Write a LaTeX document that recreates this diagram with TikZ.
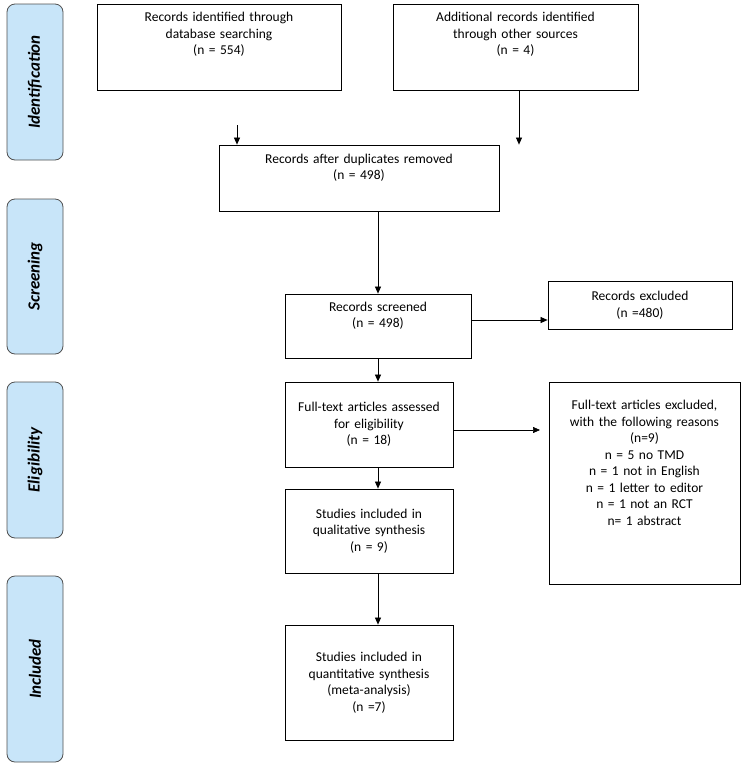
\documentclass[tikz,border=0pt]{standalone}
\usepackage{fontspec}
\setmainfont{Carlito}
\usetikzlibrary{arrows.meta}
\definecolor{sidefill}{RGB}{200,229,249}
\definecolor{sidedraw}{RGB}{80,80,80}
\tikzset{
  box/.style={draw=black, line width=0.8pt, align=center, inner sep=2pt, font=\fontsize{13.5}{16.5}\selectfont},
  side/.style={draw=sidedraw, fill=sidefill, rounded corners=8pt, line width=0.8pt, font=\fontsize{17}{19}\selectfont\bfseries\itshape, rotate=90},
  arr/.style={-{Triangle[length=7pt,width=6pt]}, line width=0.7pt}
}
\newcommand{\bx}[6]{%
  \pgfmathsetmacro{\bw}{#4-#2}\pgfmathsetmacro{\bh}{#5-#3}\pgfmathsetmacro{\tw}{#4-#2-6}%
  \pgfmathsetmacro{\cx}{(#2+#4)/2}\pgfmathsetmacro{\cy}{(#3+#5)/2}%
  \node[box, minimum width=\bw pt, minimum height=\bh pt, text width=\tw pt] (#1) at (\cx,\cy) {#6};}
\newcommand{\sd}[4]{%
  \pgfmathsetmacro{\bw}{#4-#3}\pgfmathsetmacro{\cy}{(#3+#4)/2}%
  \node[side, minimum width=\bw pt, minimum height=56pt] (#1) at (35,\cy) {#2};}
\begin{document}
\begin{tikzpicture}[x=1pt,y=-1pt]
\useasboundingbox (0,0) rectangle (755,769);
\sd{s1}{Identification}{4}{160}
\sd{s2}{Screening}{199}{354}
\sd{s3}{Eligibility}{382}{538}
\sd{s4}{Included}{576}{762}
\bx{b1}{97}{4}{341}{90}{Records identified through\\database searching\\(n = 554)\\[10pt]\mbox{}}
\bx{b2}{393}{4}{638}{90}{Additional records identified\\through other sources\\(n = 4)\\[10pt]\mbox{}}
\bx{b3}{219}{145}{499}{211}{Records after duplicates removed\\(n = 498)\\[6pt]\mbox{}}
\bx{b4}{285}{294}{471}{358}{Records screened\\(n = 498)\\[6pt]\mbox{}}
\bx{b5}{548}{281}{732}{329}{Records excluded\\(n =480)}
\bx{b6}{285}{382}{453}{467}{Full-text articles assessed\\for eligibility\\(n = 18)}
\bx{b7}{549}{382}{740}{584}{Full-text articles excluded,\\with the following reasons\\(n=9)\\n = 5 no TMD\\n = 1 not in English\\n = 1 letter to editor\\n = 1 not an RCT\\n= 1 abstract\\[24pt]\mbox{}}
\bx{b8}{285}{489}{453}{573}{Studies included in\\qualitative synthesis\\(n = 9)}
\bx{b9}{285}{625}{453}{740}{Studies included in\\quantitative synthesis\\(meta-analysis)\\(n =7)}
\coordinate (c1) at (237,125);
\coordinate (x2) at (519,0);
\coordinate (x3) at (378,0);
\coordinate (y4) at (0,320);
\coordinate (y5) at (0,430);
\coordinate (c6) at (540,430);
\coordinate (x7) at (378,0);
\draw[arr] (c1) -- (c1 |- b3.north);
\draw[arr] (b2.south -| x2) -- (b3.north -| x2);
\draw[arr] (b3.south -| x3) -- (b4.north -| x3);
\draw[arr] (b4.east |- y4) -- (b5.west |- y4);
\draw[arr] (b4.south -| x3) -- (b6.north -| x3);
\draw[arr] (b6.east |- y5) -- (c6);
\draw[arr] (b6.south -| x7) -- (b8.north -| x7);
\draw[arr] (b8.south -| x7) -- (b9.north -| x7);
\end{tikzpicture}
\end{document}
